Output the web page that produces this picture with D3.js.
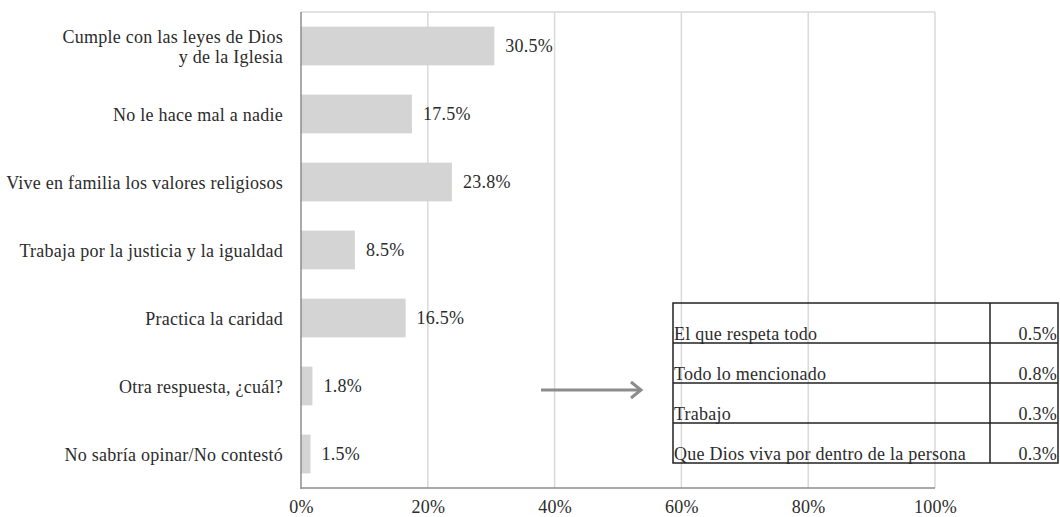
<!DOCTYPE html>
<html><head><meta charset="utf-8">
<script src="https://cdn.jsdelivr.net/npm/d3@7"></script>
<style>body{margin:0;background:#fff}svg{display:block}text{font-family:"Liberation Serif","Times New Roman",serif;fill:#2b2b2b;letter-spacing:0.25px}</style>
</head><body><svg id="c" width="1060" height="517"></svg>
<script>
const categories = [["Cumple con las leyes de Dios","y de la Iglesia"],["No le hace mal a nadie"],["Vive en familia los valores religiosos"],["Trabaja por la justicia y la igualdad"],["Practica la caridad"],["Otra respuesta, ¿cuál?"],["No sabría opinar/No contestó"]];
const values = [30.5,17.5,23.8,8.5,16.5,1.8,1.5];
const xTicks = [0,20,40,60,80,100];
const otherLabels = ["El que respeta todo","Todo lo mencionado","Trabajo","Que Dios viva por dentro de la persona"];
const otherValues = [0.5,0.8,0.3,0.3];

const FS = "18px";
const svg = d3.select("#c");
const m = {left:301, right:935, top:12, bottom:488};
const x = d3.scaleLinear().domain([0,100]).range([m.left,m.right]);
const y = d3.scaleBand().domain(d3.range(categories.length)).range([m.top,m.bottom]).paddingInner(0.43).paddingOuter(0.215);

// gridlines
svg.append("g").selectAll("line").data(xTicks.slice(1)).join("line")
  .attr("x1",d=>x(d)).attr("x2",d=>x(d)).attr("y1",m.top).attr("y2",m.bottom)
  .attr("stroke","#d9d9d9").attr("stroke-width",1.5);
svg.append("line").attr("x1",m.left).attr("x2",m.right).attr("y1",m.top).attr("y2",m.top).attr("stroke","#d9d9d9").attr("stroke-width",1.5);

// bars
svg.append("g").selectAll("rect").data(values).join("rect")
  .attr("x",x(0)).attr("y",(d,i)=>y(i)).attr("width",d=>x(d)-x(0)).attr("height",y.bandwidth())
  .attr("fill","#d4d4d4");

// axes lines
svg.append("line").attr("x1",m.left).attr("x2",m.left).attr("y1",m.top).attr("y2",m.bottom+1).attr("stroke","#8c8c8c").attr("stroke-width",1.5);
svg.append("line").attr("x1",m.left).attr("x2",m.right).attr("y1",m.bottom).attr("y2",m.bottom).attr("stroke","#8c8c8c").attr("stroke-width",1.5);

// x tick labels
const xa = svg.append("g").attr("transform",`translate(0,${m.bottom})`).call(d3.axisBottom(x).tickValues(xTicks).tickFormat(d=>d+"%").tickSize(0).tickPadding(12));
xa.select(".domain").remove();
xa.selectAll("text").style("font-family",'"Liberation Serif",serif').style("font-size",FS).attr("fill","#2b2b2b");

// category labels
const cl = svg.append("g").selectAll("text").data(categories).join("text")
  .attr("text-anchor","end").attr("font-size",FS)
  .attr("x",m.left-18)
  .attr("y",(d,i)=>y(i)+y.bandwidth()/2);
cl.each(function(d){
  const t=d3.select(this); const n=d.length;
  d.forEach((s,j)=>t.append("tspan").attr("x",m.left-18).attr("dy", j===0 ? ((-(n-1)/2)*20+7)+"px" : "20px").text(s));
});

// value labels
svg.append("g").selectAll("text").data(values).join("text")
  .attr("x",d=>x(d)+11).attr("y",(d,i)=>y(i)+y.bandwidth()/2+6)
  .attr("font-size",FS).text(d=>d.toFixed(1)+"%");

// arrow
const ay = y(5)+y.bandwidth()/2+4;
svg.append("line").attr("x1",541).attr("x2",640).attr("y1",ay).attr("y2",ay).attr("stroke","#8c8c8c").attr("stroke-width",3);
svg.append("path").attr("d",`M${631},${ay-8} L${641},${ay} L${631},${ay+8}`).attr("fill","none").attr("stroke","#8c8c8c").attr("stroke-width",3);

// table
const tx0=673, tx1=990, tx2=1058, ty0=303, rh=40;
const tg = svg.append("g");
tg.append("rect").attr("x",tx0).attr("y",ty0).attr("width",tx2-tx0).attr("height",rh*otherLabels.length).attr("fill","none").attr("stroke","#222").attr("stroke-width",1.5);
tg.append("line").attr("x1",tx1).attr("x2",tx1).attr("y1",ty0).attr("y2",ty0+rh*otherLabels.length).attr("stroke","#222").attr("stroke-width",1.5);
otherLabels.forEach((s,i)=>{
  const yb = ty0+rh*(i+1);
  if(i<otherLabels.length-1) tg.append("line").attr("x1",tx0).attr("x2",tx2).attr("y1",yb).attr("y2",yb).attr("stroke","#222").attr("stroke-width",1.5);
  tg.append("text").attr("x",tx0+1).attr("y",yb-3).attr("font-size",FS).text(s);
  tg.append("text").attr("x",tx2-1).attr("y",yb-3).attr("font-size",FS).attr("text-anchor","end").text(otherValues[i].toFixed(1)+"%");
});
</script></body></html>
